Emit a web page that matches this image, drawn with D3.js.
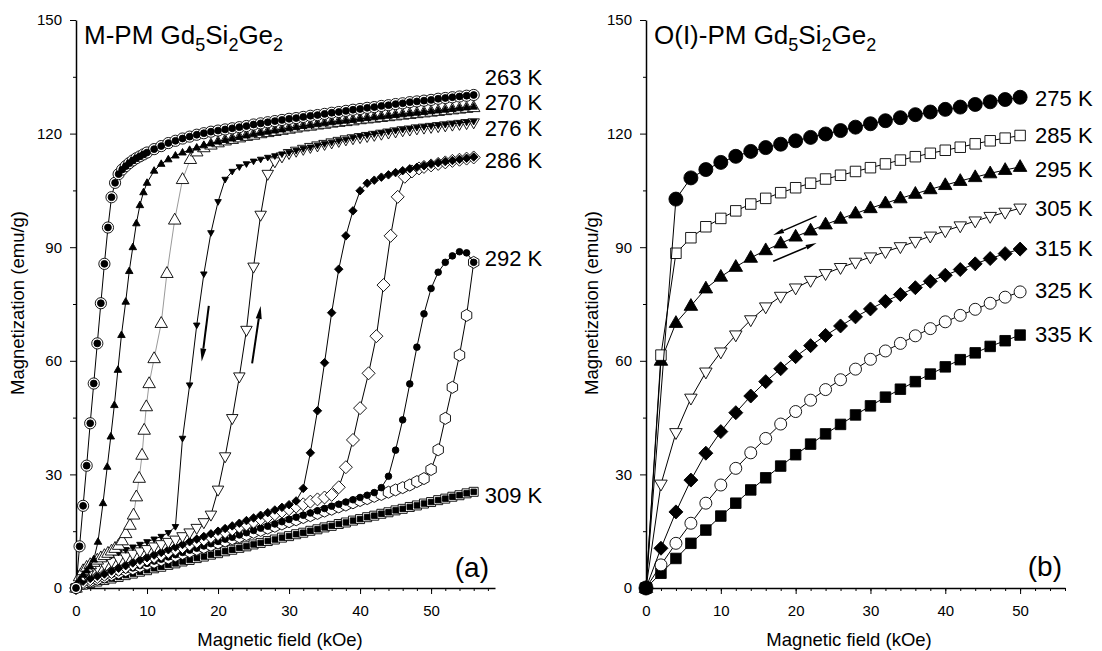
<!DOCTYPE html>
<html>
<head>
<meta charset="utf-8">
<script src="https://cdn.jsdelivr.net/npm/d3@7.9.0/dist/d3.min.js"></script>
<style>
  body { margin: 0; background: #fff; }
  svg  { display: block; font-family: "Liberation Sans", Arial, Helvetica, sans-serif; }
</style>
</head>
<body>
<svg id="chart" width="1102" height="651"></svg>
<script>
// ---- panel (a): M-PM Gd5Si2Ge2, [field kOe, magnetization emu/g] ----
// 263 K: increasing and decreasing branches coincide (drawn as circle + dot)
const m263 = [[0,0],[0.5,11],[1,21.7],[1.5,32.3],[2,43.5],[2.5,54],[3,64.6],[3.5,75.2],[4,85.6],[4.5,95.2],[5,103.2],[5.5,107],[6,109.3],[6.5,110.5],[7,111.4],[7.5,112.2],[8,112.9],[8.5,113.5],[9,114],[9.5,114.5],[10,115],[11,115.9],[12,116.7],[13,117.5],[14,118.1],[15,118.7],[16,119.2],[17,119.7],[18,120.1],[19,120.5],[20,120.8],[21,121.1],[22,121.4],[23,121.7],[24,122],[25,122.4],[26,122.7],[27,123],[28,123.3],[29,123.6],[30,123.9],[31,124.1],[32,124.4],[33,124.7],[34,124.9],[35,125.2],[36,125.5],[37,125.7],[38,126],[39,126.3],[40,126.5],[41,126.8],[42,127],[43,127.3],[44,127.5],[45,127.8],[46,128],[47,128.3],[48,128.5],[49,128.7],[50,128.9],[51,129.2],[52,129.4],[53,129.6],[54,129.8],[55,130],[56,130.2]];

const m270dec = [[0,0],[0.5,2.2],[1,3.5],[1.5,4.6],[2,5.7],[2.5,7.5],[3.1,12.2],[3.8,22.4],[4.4,32],[4.9,40],[5.4,48.3],[5.9,57.6],[6.4,66.8],[7,75.6],[7.5,83.7],[8,90],[8.5,96.3],[9,101.1],[9.5,104.5],[10,107],[11,110.2],[12,112],[13,113.2],[14,114.2],[15,115],[16,115.7],[17,116.3],[18,116.9],[19,117.4],[20,117.9],[21,118.3],[22,118.7],[23,119.1],[24,119.5],[25,119.8],[26,120.2],[27,120.5],[28,120.8],[29,121.1],[30,121.4],[31,121.7],[32,122],[33,122.2],[34,122.5],[35,122.7],[36,123],[37,123.2],[38,123.4],[39,123.6],[40,123.9],[41,124.1],[42,124.3],[43,124.5],[44,124.7],[45,124.9],[46,125.1],[47,125.3],[48,125.5],[49,125.7],[50,125.9],[51,126.1],[52,126.3],[53,126.5],[54,126.7],[55,126.9],[56,127.1]];

const m270inc = [[0,0],[0.5,3],[1,4.6],[1.5,5.5],[2,6.2],[2.5,6.8],[3,7.4],[3.5,8],[4,8.6],[4.5,9.2],[5,9.8],[5.5,10.5],[6,11.3],[6.5,12.5],[7,14.4],[7.6,16.6],[8.1,19.3],[8.5,24.1],[8.9,29],[9.3,35.1],[9.6,41.7],[9.9,47.9],[10.3,54],[11,60.6],[12,69.9],[12.8,83.1],[13.9,97.2],[15,107.9],[16.1,113.2],[17,115.2],[18,116.3],[19,117],[20,117.6],[21,118.1],[22,118.5],[23,118.9],[24,119.3],[25,119.6],[26,120],[27,120.3],[28,120.6],[29,120.9],[30,121.2],[31,121.5],[32,121.8],[33,122],[34,122.3],[35,122.5],[36,122.8],[37,123],[38,123.2],[39,123.4],[40,123.7],[41,123.9],[42,124.1],[43,124.3],[44,124.5],[45,124.7],[46,124.9],[47,125.1],[48,125.3],[49,125.5],[50,125.7],[51,125.9],[52,126.1],[53,126.3],[54,126.5],[55,126.7],[56,126.9]];

const m276dec = [[0,0],[1,4.5],[2,6],[3,7],[4,7.8],[5,8.6],[6,9.4],[7,10.1],[8,10.8],[9,11.5],[10,12.2],[11,12.9],[12,13.6],[13,14.6],[14,16.2],[15,39.5],[16,53.6],[17,69.4],[18,82.9],[19,93.8],[20,102],[21,107.9],[22,110],[23,111.2],[24,112],[25,112.7],[26,113.2],[27,113.7],[28,114.1],[29,114.6],[30,115],[31,115.5],[32,116],[33,116.4],[34,116.9],[35,117.3],[36,117.7],[37,118.1],[38,118.5],[39,118.9],[40,119.3],[41,119.6],[42,119.9],[43,120.2],[44,120.5],[45,120.8],[46,121.1],[47,121.3],[48,121.6],[49,121.8],[50,122],[51,122.2],[52,122.4],[53,122.6],[54,122.8],[55,123],[56,123.2]];

const m276inc = [[0,0],[1,3.5],[2,4.6],[3,5.5],[4,6.3],[5,7],[6,7.7],[7,8.3],[8,9],[9,9.6],[10,10.2],[11,10.9],[12,11.5],[13,12.1],[14,12.7],[15,13.6],[16,14.6],[17,15.8],[18,17.3],[19,19.3],[20,25.9],[21,34.7],[22,44.8],[23,55.8],[24,68.1],[25,84.8],[26,98.5],[27,109.3],[28,112.6],[29,113.9],[30,114.8],[31,115.4],[32,115.9],[33,116.4],[34,116.8],[35,117.2],[36,117.6],[37,118],[38,118.4],[39,118.7],[40,119],[41,119.3],[42,119.6],[43,119.9],[44,120.2],[45,120.5],[46,120.8],[47,121],[48,121.3],[49,121.5],[50,121.7],[51,121.9],[52,122.1],[53,122.3],[54,122.5],[55,122.7],[56,122.9]];

const m286dec = [[0,0],[1,1.8],[2,2.5],[3,3.1],[4,3.7],[5,4.5],[6,5.2],[7,5.9],[8,6.6],[9,7.3],[10,8],[11,8.7],[12,9.4],[13,10.1],[14,10.8],[15,11.5],[16,12.2],[17,12.9],[18,13.6],[19,14.3],[20,15],[21,15.7],[22,16.4],[23,17.1],[24,17.8],[25,18.5],[26,19.2],[27,19.9],[28,20.6],[29,21.3],[30,22],[31,23],[32,26.3],[33,35.7],[34,46.8],[35,59.5],[36,72.7],[37,84.2],[38,93],[39,99.6],[40,104.9],[41,106.9],[42,107.7],[43,108.5],[44,109.1],[45,109.7],[46,110.2],[47,110.7],[48,111.1],[49,111.5],[50,111.9],[51,112.3],[52,112.6],[53,112.9],[54,113.2],[55,113.5],[56,113.8]];

const m286inc = [[0,0],[1,1.6],[2,2.3],[3,2.9],[4,3.5],[5,4.2],[6,4.8],[7,5.5],[8,6.2],[9,6.8],[10,7.5],[11,8.2],[12,8.8],[13,9.5],[14,10.2],[15,10.8],[16,11.5],[17,12.2],[18,12.8],[19,13.5],[20,14.2],[21,14.8],[22,15.5],[23,16.2],[24,16.8],[25,17.5],[26,18.2],[27,18.8],[28,19.5],[29,20.2],[30,20.8],[31,21.5],[32,22.1],[33,22.8],[34,23.4],[35,23.9],[36,24.6],[37,26.6],[38,31.9],[39,39.1],[40,47.5],[41.2,56.7],[42.3,66.5],[43.3,80],[44.3,93],[45.3,103.3],[46.3,108.6],[47.3,110],[48.3,110.8],[49,111.2],[50,111.6],[51,112],[52,112.4],[53,112.8],[54,113.1],[55,113.4],[56,113.7]];

const m292dec = [[0,0],[1,1.3],[2,1.9],[3,2.5],[4,3],[5,3.6],[6,4.2],[7,4.8],[8,5.3],[9,5.9],[10,6.5],[11,7.1],[12,7.6],[13,8.2],[14,8.8],[15,9.4],[16,10],[17,10.5],[18,11.1],[19,11.7],[20,12.3],[21,12.9],[22,13.4],[23,14],[24,14.6],[25,15.2],[26,15.8],[27,16.3],[28,16.9],[29,17.5],[30,18.1],[31,18.7],[32,19.2],[33,19.8],[34,20.4],[35,21],[36,21.6],[37,22.1],[38,22.7],[39,23.3],[40,23.9],[41,24.5],[42,25.2],[43,26.5],[44,29.5],[45,36.4],[46,44.4],[47,53.9],[48,63.6],[49,72.4],[50,79.1],[51,83.4],[52,86],[53,87.7],[54,88.8],[55,88.5],[56,86]];

const m292inc = [[0,0],[1,1.2],[2,1.8],[3,2.3],[4,2.9],[5,3.5],[6,4],[7,4.6],[8,5.1],[9,5.7],[10,6.3],[11,6.8],[12,7.4],[13,7.9],[14,8.5],[15,9.1],[16,9.6],[17,10.2],[18,10.7],[19,11.3],[20,11.9],[21,12.4],[22,13],[23,13.5],[24,14.1],[25,14.7],[26,15.2],[27,15.8],[28,16.3],[29,16.9],[30,17.5],[31,18],[32,18.6],[33,19.1],[34,19.7],[35,20.3],[36,20.8],[37,21.4],[38,21.9],[39,22.5],[40,23.1],[41,23.6],[42,24.2],[43,24.7],[44,25.3],[45,25.9],[46,26.5],[47,27.2],[48,28.1],[49,28.9],[50,31.3],[51,36.5],[52,44.8],[53,53],[54,61.5],[55,72],[56,86]];

// 309 K: both branches coincide (drawn as open square + filled square)
const m309 = [[0,0],[1,0.9],[2,1.3],[3,1.7],[4,2.1],[5,2.5],[6,2.9],[7,3.4],[8,3.8],[9,4.3],[10,4.7],[11,5.2],[12,5.6],[13,6.1],[14,6.5],[15,7],[16,7.4],[17,7.9],[18,8.3],[19,8.8],[20,9.2],[21,9.7],[22,10.1],[23,10.6],[24,11],[25,11.5],[26,11.9],[27,12.4],[28,12.8],[29,13.3],[30,13.7],[31,14.2],[32,14.6],[33,15.1],[34,15.5],[35,16],[36,16.4],[37,16.9],[38,17.3],[39,17.8],[40,18.2],[41,18.7],[42,19.1],[43,19.6],[44,20],[45,20.5],[46,20.9],[47,21.4],[48,21.8],[49,22.3],[50,22.7],[51,23.2],[52,23.6],[53,24.1],[54,24.5],[55,25],[56,25.4]];

// ---- panel (b): O(I)-PM Gd5Si2Ge2 ----
const b275 = [[0,0],[4,102.7],[6,108.3],[8,110.5],[10,112.4],[12,114],[14,115.3],[16,116.3],[18,117.2],[20,118.1],[22,119],[24,119.9],[26,120.8],[28,121.7],[30,122.6],[32,123.4],[34,124.2],[36,125],[38,125.7],[40,126.4],[42,127],[44,127.7],[46,128.4],[48,129],[50,129.6]];
const b285 = [[0,0],[2,61.5],[4,88.4],[6,92.5],[8,95.4],[10,97.6],[12,99.6],[14,101.4],[16,102.9],[18,104.4],[20,105.7],[22,106.9],[24,108],[26,109],[28,110],[30,111],[32,112],[34,113],[36,113.9],[38,114.8],[40,115.6],[42,116.4],[44,117.3],[46,118.1],[48,118.8],[50,119.5]];
const b295 = [[0,0],[2,60],[4,70],[6,74.5],[8,79.1],[10,82.2],[12,84.8],[14,87.2],[16,89.2],[18,91],[20,92.8],[22,94.4],[24,96],[26,97.5],[28,98.9],[30,100.3],[32,101.6],[34,102.9],[36,104.1],[38,105.3],[40,106.4],[42,107.5],[44,108.5],[46,109.5],[48,110.4],[50,111.2]];
const b305 = [[0,0],[2,27.4],[4,41],[6,50.1],[8,57],[10,62.3],[12,66.8],[14,70.8],[16,74.2],[18,77],[20,79.2],[22,81.2],[24,83],[26,84.6],[28,86],[30,87.4],[32,88.8],[34,90.1],[36,91.5],[38,92.9],[40,94.3],[42,95.6],[44,96.9],[46,98.1],[48,99.2],[50,100.3]];
const b315 = [[0,0],[2,10.5],[4,20.1],[6,28.5],[8,35.6],[10,41.3],[12,46.3],[14,50.7],[16,54.5],[18,57.9],[20,61.1],[22,64],[24,66.7],[26,69.2],[28,71.6],[30,73.7],[32,75.7],[34,77.5],[36,79.3],[38,81],[40,82.6],[42,84.1],[44,85.6],[46,87],[48,88.3],[50,89.5]];
const b325 = [[0,0],[2,6.1],[4,11.8],[6,17.1],[8,22.4],[10,27.2],[12,31.6],[14,35.7],[16,39.5],[18,43.3],[20,46.6],[22,49.6],[24,52.4],[26,55],[28,57.8],[30,60.4],[32,62.6],[34,64.6],[36,66.6],[38,68.5],[40,70.3],[42,72],[44,73.6],[46,75.2],[48,76.8],[50,78.2]];
const b335 = [[0,0],[2,3.9],[4,7.8],[6,11.8],[8,15.3],[10,19],[12,22.4],[14,25.9],[16,29.1],[18,32.2],[20,35.2],[22,38],[24,40.7],[26,43.2],[28,45.7],[30,48.1],[32,50.4],[34,52.5],[36,54.5],[38,56.5],[40,58.4],[42,60.3],[44,62.1],[46,63.8],[48,65.3],[50,66.8]];

// temperature labels: [text, magnetization level of label]
const labelsA = [['263 K',134.9],['270 K',128.2],['276 K',121.5],['286 K',113],['292 K',87],['309 K',24.5]];
const labelsB = [['275 K',129.5],['285 K',119.7],['295 K',110.5],['305 K',100.3],['315 K',89.8],['325 K',78.7],['335 K',67]];

// field sweep arrows: [from, to] in [kOe, emu/g]
const arrowsA = [[[18.7,74.5],[17.7,59.8]], [[24.8,59.3],[26,74.5]]];
const arrowsB = [[[22.8,98.2],[17,93.2]], [[17,86.3],[22.8,91.1]]];

const fieldTicks = [0,10,20,30,40,50];
const magTicks   = [0,30,60,90,120,150];

// ---------------------------------------------------------------
const svg = d3.select('#chart');

const shapes = {
  circle:  r => `M${r},0A${r},${r} 0 1,1 ${-r},0A${r},${r} 0 1,1 ${r},0Z`,
  square:  s => { const h = s/2; return `M${-h},${-h}H${h}V${h}H${-h}Z`; },
  diamond: d => { const h = d/2; return `M0,${-h}L${h},0L0,${h}L${-h},0Z`; },
  triUp:   w => { const h = w*0.87; return `M0,${-h*0.62}L${w/2},${h*0.38}L${-w/2},${h*0.38}Z`; },
  triDown: w => { const h = w*0.87; return `M0,${h*0.62}L${w/2},${-h*0.38}L${-w/2},${-h*0.38}Z`; },
  hexagon: r => d3.range(6).map(i => {
      const a = (i*60 - 90) * Math.PI/180;
      return (i ? 'L' : 'M') + (r*Math.cos(a)).toFixed(2) + ',' + (r*Math.sin(a)).toFixed(2);
    }).join('') + 'Z'
};

function makePanel(left, right, fieldMax) {
  const x = d3.scaleLinear().domain([0, fieldMax]).range([left, right]);
  const y = d3.scaleLinear().domain([0, 150]).range([588, 20]);
  const g = svg.append('g');

  // minor ticks
  g.append('g')
    .attr('transform', 'translate(0,588)')
    .call(d3.axisBottom(x).tickValues(d3.range(2, fieldMax + 0.01, 2)).tickSize(3).tickFormat(''))
    .call(a => a.select('.domain').remove());
  g.append('g')
    .attr('transform', `translate(${left},0)`)
    .call(d3.axisLeft(y).tickValues([15,45,75,105,135]).tickSize(3).tickFormat(''))
    .call(a => a.select('.domain').remove());

  // major axes
  g.append('g')
    .attr('transform', 'translate(0,588)')
    .call(d3.axisBottom(x).tickValues(fieldTicks).tickSize(6).tickSizeOuter(0).tickPadding(11))
    .attr('font-size', 15).attr('font-family', null)
    .call(a => a.select('.domain').attr('stroke-width', 1.5));
  g.append('g')
    .attr('transform', `translate(${left},0)`)
    .call(d3.axisLeft(y).tickValues(magTicks).tickSize(6).tickSizeOuter(0).tickPadding(8))
    .attr('font-size', 15).attr('font-family', null)
    .call(a => a.select('.domain').attr('stroke-width', 1.5));

  return { x, y, g };
}

function drawSeries(p, s) {
  const line = d3.line().x(d => p.x(d[0])).y(d => p.y(d[1]));
  p.g.append('path')
    .datum(s.data)
    .attr('d', line)
    .attr('fill', 'none')
    .attr('stroke', s.line || '#000')
    .attr('stroke-width', 1);
  for (const [kind, size, fill] of s.marks) {
    p.g.append('g')
      .selectAll('path')
      .data(s.data)
      .join('path')
        .attr('transform', d => `translate(${p.x(d[0])},${p.y(d[1])})`)
        .attr('d', shapes[kind](size))
        .attr('fill', fill)
        .attr('stroke', '#000')
        .attr('stroke-width', 0.9);
  }
}

function drawArrow(p, [from, to], width, headLen, headW) {
  const x0 = p.x(from[0]), y0 = p.y(from[1]);
  const x1 = p.x(to[0]),   y1 = p.y(to[1]);
  const len = Math.hypot(x1 - x0, y1 - y0);
  const ux = (x1 - x0) / len, uy = (y1 - y0) / len;
  const bx = x1 - ux*headLen, by = y1 - uy*headLen;
  p.g.append('line')
    .attr('x1', x0).attr('y1', y0).attr('x2', bx).attr('y2', by)
    .attr('stroke', '#000').attr('stroke-width', width);
  p.g.append('path')
    .attr('d', `M${x1},${y1}L${bx - uy*headW/2},${by + ux*headW/2}L${bx + uy*headW/2},${by - ux*headW/2}Z`)
    .attr('fill', '#000');
}

function drawTitle(p, prefix) {
  const t = p.g.append('text')
    .attr('x', p.x(0) + 8).attr('y', 44)
    .attr('font-size', 26);
  t.append('tspan').text(prefix + ' Gd');
  t.append('tspan').attr('dy', 7).attr('font-size', 18).text('5');
  t.append('tspan').attr('dy', -7).text('Si');
  t.append('tspan').attr('dy', 7).attr('font-size', 18).text('2');
  t.append('tspan').attr('dy', -7).text('Ge');
  t.append('tspan').attr('dy', 7).attr('font-size', 18).text('2');
}

function drawLabels(p, labels, fieldEnd, dx) {
  p.g.append('g')
    .selectAll('text')
    .data(labels)
    .join('text')
      .attr('x', p.x(fieldEnd) + dx)
      .attr('y', d => p.y(d[1]))
      .attr('dy', '0.36em')
      .attr('font-size', 22)
      .text(d => d[0]);
}

function axisTitles(p, xCenter, yBase) {
  p.g.append('text')
    .attr('x', xCenter).attr('y', 646)
    .attr('text-anchor', 'middle').attr('font-size', 18.5)
    .text('Magnetic field (kOe)');
  p.g.append('text')
    .attr('transform', `translate(${yBase},303) rotate(-90)`)
    .attr('text-anchor', 'middle').attr('font-size', 18.5)
    .text('Magnetization (emu/g)');
}

// ---- panel (a) ----
const pa = makePanel(76, 495, 59);
const seriesA = [
  { data: m309,    marks: [['square', 9, '#fff'], ['square', 5.5, '#000']] },
  { data: m292inc, marks: [['hexagon', 6, '#fff']] },
  { data: m292dec, marks: [['circle', 3.3, '#000']] },
  { data: m286inc, marks: [['diamond', 13, '#fff']] },
  { data: m286dec, marks: [['diamond', 8.5, '#000']] },
  { data: m276inc, marks: [['triDown', 11.5, '#fff']] },
  { data: m276dec, marks: [['triDown', 6.5, '#000']] },
  { data: m270inc, line: '#9a9a9a', marks: [['triUp', 12.5, '#fff']] },
  { data: m270dec, marks: [['triUp', 7.5, '#000']] },
  { data: m263,    marks: [['circle', 5.6, '#fff'], ['circle', 3.4, '#000']] }
];
seriesA.forEach(s => drawSeries(pa, s));
arrowsA.forEach(a => drawArrow(pa, a, 2, 13, 6));
drawTitle(pa, 'M-PM');
drawLabels(pa, labelsA, 56, 11);
axisTitles(pa, 280, 24);
pa.g.append('text').attr('x', 489).attr('y', 577)
  .attr('text-anchor', 'end').attr('font-size', 28).text('(a)');

// ---- panel (b) ----
const pb = makePanel(646, 1065, 56);
const seriesB = [
  { data: b335, marks: [['square', 10.5, '#000']] },
  { data: b325, marks: [['circle', 6, '#fff']] },
  { data: b315, marks: [['diamond', 14, '#000']] },
  { data: b305, marks: [['triDown', 12.5, '#fff']] },
  { data: b295, marks: [['triUp', 13.5, '#000']] },
  { data: b285, marks: [['square', 10.5, '#fff']] },
  { data: b275, marks: [['circle', 7, '#000']] }
];
seriesB.forEach(s => drawSeries(pb, s));
arrowsB.forEach(a => drawArrow(pb, a, 1.5, 11, 5));
drawTitle(pb, 'O(I)-PM');
drawLabels(pb, labelsB, 50, 15);
axisTitles(pb, 849, 598);
pb.g.append('text').attr('x', 1062).attr('y', 576)
  .attr('text-anchor', 'end').attr('font-size', 28).text('(b)');
</script>
</body>
</html>
